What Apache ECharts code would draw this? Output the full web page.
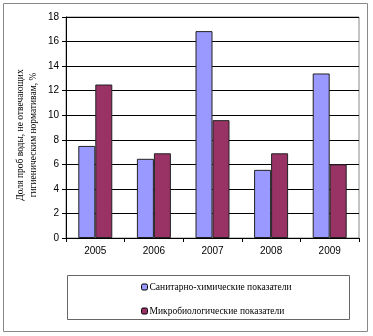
<!DOCTYPE html>
<html><head><meta charset="utf-8">
<script src="https://cdn.jsdelivr.net/npm/echarts@6/dist/echarts.min.js"></script>
<style>html,body{margin:0;padding:0;background:#fff}#c{width:373px;height:336px}</style>
</head><body><div id="c"></div>
<script>
const categories = ['2005','2006','2007','2008','2009'];
const sanChem = [7.5, 6.45, 16.85, 5.55, 13.4];
const microBio = [12.5, 6.9, 9.6, 6.9, 6.0];
const seriesNames = ['Санитарно-химические показатели','Микробиологические показатели'];
const yTitle = 'Доля проб воды, не отвечающих\nгигиеническим нормативам, %';

const chart = echarts.init(document.getElementById('c'), null, {renderer:'canvas'});
chart.setOption({
  animation:false,
  backgroundColor:'#fff',
  grid:{left:66,right:14,top:17,bottom:98,show:true,borderColor:'#888',borderWidth:1,backgroundColor:'transparent'},
  xAxis:{type:'category',data:categories,
    axisLine:{lineStyle:{color:'#000',width:1}},
    axisTick:{show:true,length:4,lineStyle:{color:'#000'}},
    axisLabel:{color:'#000',fontFamily:'Liberation Sans, Arial',fontSize:10,margin:8}},
  yAxis:{type:'value',min:0,max:18,interval:2,
    axisLine:{show:true,lineStyle:{color:'#000'}},
    axisTick:{show:true,length:4,lineStyle:{color:'#000'}},
    axisLabel:{color:'#000',fontFamily:'Liberation Sans, Arial',fontSize:10,margin:7},
    splitLine:{lineStyle:{color:'#000',width:1}}},
  legend:{orient:'vertical',left:136,top:277,itemWidth:6,itemHeight:6,itemGap:14,
    textStyle:{fontFamily:'Liberation Serif, Times New Roman',fontSize:9.5,color:'#000',padding:[0,0,0,-3]},
    data:seriesNames.map(n=>({name:n,itemStyle:{borderColor:'#000',borderWidth:1}}))},
  series:[
    {name:seriesNames[0],type:'bar',data:sanChem,barCategoryGap:'42%',barGap:'0%',
      itemStyle:{color:'#9999FF',borderColor:'#222',borderWidth:1}},
    {name:seriesNames[1],type:'bar',data:microBio,
      itemStyle:{color:'#993366',borderColor:'#222',borderWidth:1}}
  ],
  graphic:[
    {type:'rect',shape:{x:3.5,y:3.5,width:364,height:328},style:{fill:'none',stroke:'#888',lineWidth:1},silent:true,z:-1},
    {type:'rect',shape:{x:67.5,y:275.5,width:282,height:44},style:{fill:'none',stroke:'#666',lineWidth:1},silent:true},
    {type:'text',x:27,y:135,rotation:Math.PI/2,
      style:{text:yTitle,fontFamily:'Liberation Serif, Times New Roman',fontSize:9.5,fill:'#000',align:'center',verticalAlign:'middle',lineHeight:12.5}}
  ]
});
</script></body></html>
